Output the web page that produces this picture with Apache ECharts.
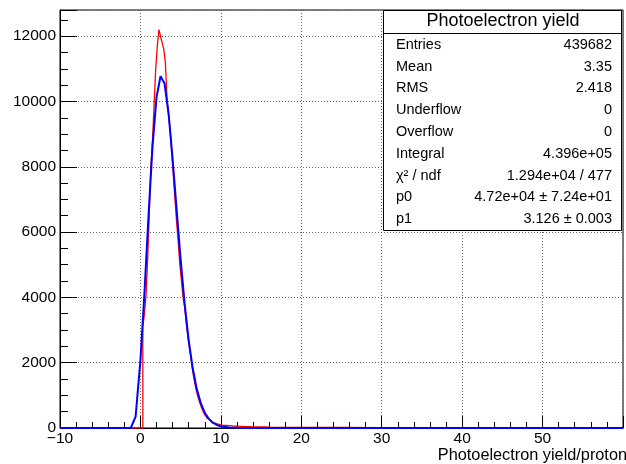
<!DOCTYPE html>
<html>
<head>
<meta charset="utf-8">
<script src="https://cdn.jsdelivr.net/npm/echarts@6/dist/echarts.min.js"></script>
<style>
html,body{margin:0;padding:0;background:#fff;}
#chart{width:626px;height:464px;}
</style>
</head>
<body>
<div id="chart"></div>
<script>
// Red histogram: bin left edges and contents
const redX = [-10, 0.3, 0.5, 0.7, 0.9, 1.1, 1.3, 1.5, 1.7, 1.9, 2.1, 2.3, 2.5, 2.7, 2.9, 3.1, 3.3, 3.5, 3.7, 3.9,
  4.1, 4.3, 4.5, 4.7, 4.9, 5.1, 5.3, 5.5, 5.7, 5.9, 6.1, 6.3, 6.5, 6.7, 6.9, 7.1, 7.3, 7.5, 7.7, 7.9,
  8.1, 8.3, 8.5, 8.7, 8.9, 9.1, 9.3, 9.5, 9.7, 9.9, 10.1, 10.6, 11.1, 11.6, 12.1, 12.6, 13.1, 13.6, 14.1, 14.6,
  15.1, 15.6, 16.1, 18, 20, 25, 30, 35, 40, 45, 50, 55, 60];
const redY = [0, 3100, 3500, 4100, 5200, 6600, 8000, 8800, 9900, 11000, 11700, 12200, 12000, 11800, 11600, 11200, 10100, 9600, 9100, 8400,
  7700, 7000, 6300, 5700, 5000, 4500, 4000, 3700, 3200, 2800, 2450, 2100, 1750, 1450, 1200, 1000, 830, 690, 560, 450,
  370, 300, 250, 210, 175, 150, 130, 115, 100, 90, 80, 70, 60, 55, 50, 45, 40, 35, 35, 30,
  30, 25, 20, 15, 15, 12, 10, 8, 8, 6, 6, 5, 0];

// Blue fit curve
const blueX = [-10, -1.2, -0.6, 0, 0.5, 1, 1.5, 2, 2.5, 3, 3.5, 4, 4.5, 5, 5.5, 6, 6.5, 7, 7.5, 8, 8.5, 9, 9.5, 10, 11, 12, 13, 14, 60];
const blueY = [0, 0, 350, 2072, 4134, 6477, 8615, 10124, 10771, 10549, 9623, 8244, 6686, 5154, 3800, 2685, 1828, 1199, 762, 469, 280, 163, 92, 51, 15, 4, 1, 0, 0];

// Stats box
const statsTitle = 'Photoelectron yield';
const statsNames = ['Entries', 'Mean', 'RMS', 'Underflow', 'Overflow', 'Integral', 'χ² / ndf', 'p0', 'p1'];
const statsValues = ['439682', '3.35', '2.418', '0', '0', '4.396e+05', '1.294e+04 / 477', '4.72e+04 ± 7.24e+01', '3.126 ± 0.003'];

const xTitle = 'Photoelectron yield/proton';

const FONT = "'Liberation Sans', Arial, Helvetica, sans-serif";

const redData = redX.map((x, i) => [x, redY[i]]);
const blueData = blueX.map((x, i) => [x, blueY[i]]);

const chart = echarts.init(document.getElementById('chart'), null, {renderer: 'canvas'});

const graphics = [];
const boxL = 383.5, boxT = 10.5, boxW = 238, boxH = 220;
graphics.push({type: 'rect', z: 100, shape: {x: boxL, y: boxT, width: boxW, height: boxH},
  style: {fill: '#fff', stroke: '#000', lineWidth: 1}});
graphics.push({type: 'line', z: 101, shape: {x1: boxL, y1: 33.5, x2: boxL + boxW, y2: 33.5},
  style: {stroke: '#000', lineWidth: 1}});
graphics.push({type: 'text', z: 102, style: {x: 503, y: 21.5, text: statsTitle, font: '18px ' + FONT,
  fill: '#000', textAlign: 'center', textVerticalAlign: 'middle'}});
statsNames.forEach((n, i) => {
  const y = 44.7 + i * 21.8;
  graphics.push({type: 'text', z: 102, style: {x: 396, y: y, text: n, font: '14.5px ' + FONT,
    fill: '#000', textAlign: 'left', textVerticalAlign: 'middle'}});
  graphics.push({type: 'text', z: 102, style: {x: 612, y: y, text: statsValues[i], font: '14.5px ' + FONT,
    fill: '#000', textAlign: 'right', textVerticalAlign: 'middle'}});
});
graphics.push({type: 'text', z: 102, style: {x: 627, y: 456, text: xTitle, font: '16.3px ' + FONT,
  fill: '#000', textAlign: 'right', textVerticalAlign: 'middle'}});

const option = {
  animation: false,
  backgroundColor: '#fff',
  grid: {left: 60, top: 10, width: 568, height: 418, show: true, borderColor: '#000', borderWidth: 1, backgroundColor: 'transparent'},
  xAxis: {
    type: 'value', min: -10, max: 60, interval: 10,
    axisLine: {show: true, onZero: false, lineStyle: {color: '#000', width: 1}},
    axisTick: {show: true, inside: true, length: 12, lineStyle: {color: '#000'}},
    minorTick: {show: true, splitNumber: 5, length: 6, lineStyle: {color: '#000'}},
    splitLine: {show: true, lineStyle: {color: '#666', type: [1, 2], width: 1}},
    axisLabel: {color: '#000', fontSize: 15.5, fontFamily: FONT, margin: 3,
      formatter: v => (v >= 60 ? '' : String(v).replace('-', '\u2212'))}
  },
  yAxis: [{
    type: 'value', min: 0, max: 12800, interval: 2000,
    axisLine: {show: true, onZero: false, lineStyle: {color: '#000', width: 1}},
    axisTick: {show: true, inside: true, length: 17, lineStyle: {color: '#000'}},
    splitLine: {show: true, lineStyle: {color: '#666', type: [1, 2], width: 1}},
    axisLabel: {color: '#000', fontSize: 15.5, fontFamily: FONT, margin: 4,
      formatter: v => (v % 2000 === 0 ? String(v) : '')}
  }, {
    type: 'value', min: 0, max: 12800, interval: 500, position: 'left',
    axisLine: {show: false, onZero: false},
    axisTick: {show: true, inside: true, length: 8, lineStyle: {color: '#000'}},
    splitLine: {show: false},
    axisLabel: {show: false}
  }],
  series: [{
    type: 'line', data: redData, step: 'end', symbol: 'none', yAxisIndex: 0,
    lineStyle: {color: '#ff0000', width: 1.3}, z: 3
  }, {
    type: 'line', data: blueData, symbol: 'none', yAxisIndex: 0,
    lineStyle: {color: '#0000ff', width: 2}, z: 4
  }],
  graphic: graphics
};
chart.setOption(option);
</script>
</body>
</html>
